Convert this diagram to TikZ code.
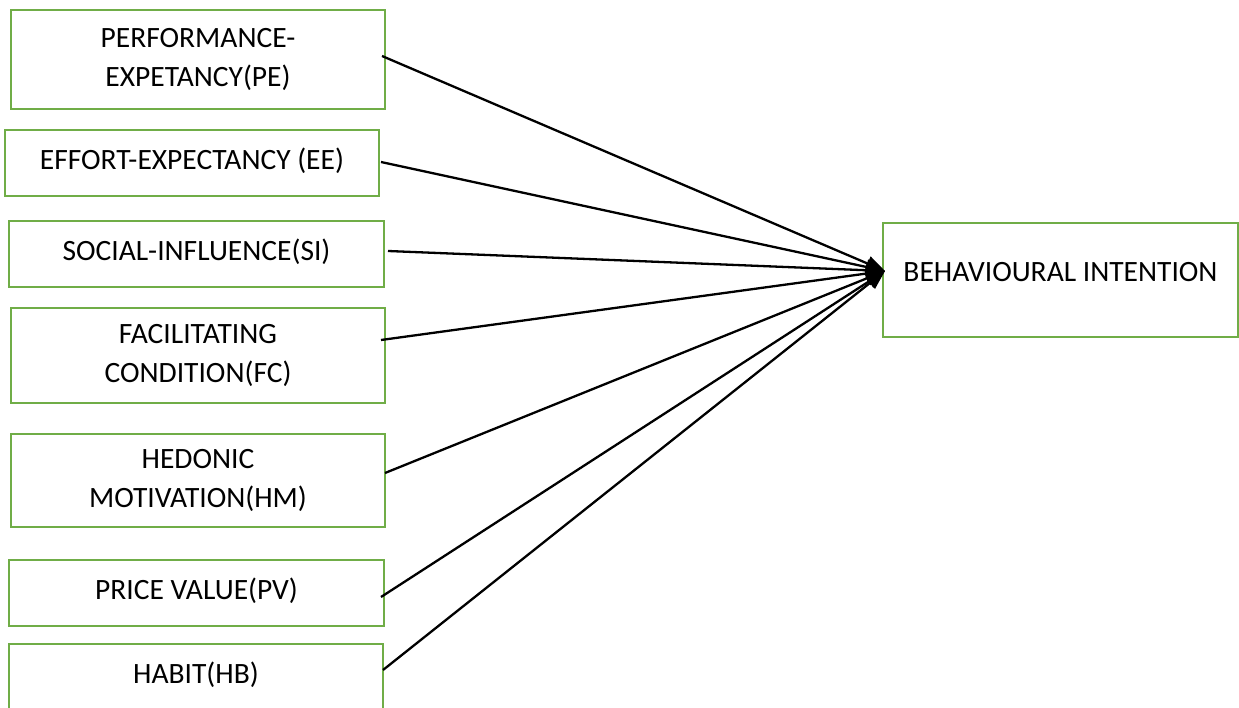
\documentclass[tikz,border=0pt]{standalone}
\usepackage{fontspec}
\setmainfont{Carlito}
\usetikzlibrary{arrows.meta,calc}
\definecolor{boxgreen}{RGB}{112,173,71}
\tikzset{
  factor/.style={draw=boxgreen, line width=2.5pt, fill=white, inner sep=0pt, outer sep=0pt,
    minimum width=374pt, align=center, font=\fontsize{29.5}{39}\selectfont, text=black},
  oneline/.style={text height=19pt, text depth=6pt},
  conn/.style={draw=black, line width=2.3pt, -{Triangle[length=19pt,width=15pt]}}
}
\begin{document}
\begin{tikzpicture}[x=1pt,y=-1pt]
\useasboundingbox (0,0) rectangle (1239,708);
\fill[white] (0,0) rectangle (1239,708);
\node[factor, minimum height=99pt] (pe) at (198,59.5) {PERFORMANCE-\\EXPETANCY(PE)};
\node[factor, oneline, minimum height=66pt] (ee) at (192,163) {EFFORT-EXPECTANCY (EE)};
\node[factor, oneline, minimum width=375pt, minimum height=66pt] (si) at (196.5,254) {SOCIAL-INFLUENCE(SI)};
\node[factor, minimum height=95pt] (fc) at (198,355.5) {FACILITATING\\CONDITION(FC)};
\node[factor, minimum height=93pt] (hm) at (198,480.5) {HEDONIC\\MOTIVATION(HM)};
\node[factor, oneline, minimum width=375pt, minimum height=66pt] (pv) at (196.5,593) {PRICE VALUE(PV)};
\node[factor, oneline, minimum height=66pt] (hb) at (196,677) {HABIT(HB)};
\node[factor, minimum width=355pt, minimum height=114pt, text height=18.7pt, text depth=16pt] (bi) at (1060.5,280) {BEHAVIOURAL INTENTION};
\coordinate (tip) at ($(bi.west)+(2,-9)$);
\draw[conn] ($(pe.east)+(-3,-3.5)$) -- (tip);
\draw[conn] ($(ee.east)+(2,-1)$) -- (tip);
\draw[conn] ($(si.east)+(4,-3)$) -- (tip);
\draw[conn] ($(fc.east)+(-4,-15.5)$) -- (tip);
\draw[conn] ($(hm.east)+(0,-7.5)$) -- (tip);
\draw[conn] ($(pv.east)+(-3,4)$) -- (tip);
\draw[conn] ($(hb.east)+(0,-7)$) -- (tip);
\end{tikzpicture}
\end{document}
